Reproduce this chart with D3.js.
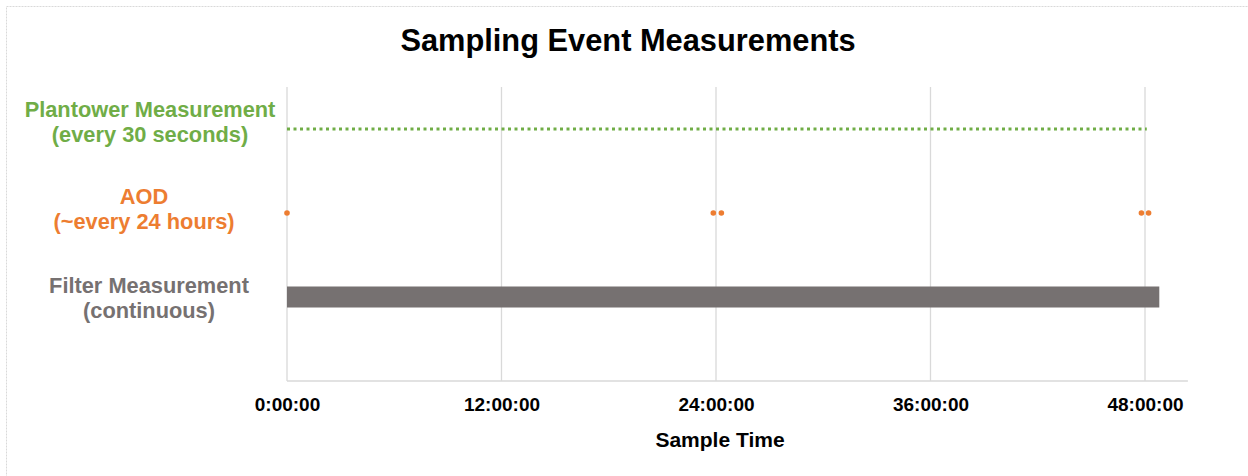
<!DOCTYPE html>
<html>
<head>
<meta charset="utf-8">
<script src="https://cdn.jsdelivr.net/npm/d3@7"></script>
<style>
  body { margin: 0; background: #fff; }
  text { font-family: "Liberation Sans", Arial, sans-serif; font-weight: bold; }
</style>
</head>
<body>
<div id="chart"></div>
<script>
// hours
var xTicks = [0, 12, 24, 36, 48];
var tickLabels = ["0:00:00", "12:00:00", "24:00:00", "36:00:00", "48:00:00"];

var rows = ["Plantower", "AOD", "Filter"];
var rowLabels = [
    ["Plantower Measurement", "(every 30 seconds)"],
    ["AOD", "(~every 24 hours)"],
    ["Filter Measurement", "(continuous)"]
];
var rowLevel = [3, 2, 1];
var rowColors = ["#70ad47", "#ed7d31", "#767171"];

// plantower line spans the whole event
var plantowerSpan = [0, 48.1];
// AOD sample times (hours)
var aodTimes = [0, 23.85, 24.3, 47.8, 48.2];
// filter on/off
var filterSpan = [0, 48.8];

var W = 1248, H = 476;

// label layout (centre of each two-line label)
var labelX = [150, 144, 149];
var labelMid = [121.5, 208.5, 297.5];

var svg = d3.select("#chart").append("svg")
    .attr("width", W)
    .attr("height", H);

// outer dashed frame
svg.append("rect")
    .attr("x", 6.5).attr("y", 6.5)
    .attr("width", W + 20).attr("height", H + 20)
    .attr("fill", "none")
    .attr("stroke", "#d9d9d9")
    .attr("stroke-dasharray", "2,1");

var xScale = d3.scaleLinear()
    .domain([0, 48])
    .range([287, 1145]);

var yScale = d3.scaleLinear()
    .domain([0, 3.5])
    .range([381, 87]);

// gridlines
svg.append("g")
    .selectAll("line")
    .data(xTicks)
    .enter()
    .append("line")
    .attr("x1", function(d){ return xScale(d); })
    .attr("x2", function(d){ return xScale(d); })
    .attr("y1", yScale(3.5))
    .attr("y2", yScale(0))
    .attr("stroke", "#d9d9d9")
    .attr("stroke-width", 1.3);

// x axis line
svg.append("line")
    .attr("x1", xScale(0)).attr("x2", xScale(50.4))
    .attr("y1", yScale(0)).attr("y2", yScale(0))
    .attr("stroke", "#d9d9d9")
    .attr("stroke-width", 1.5);

var xAxis = d3.axisBottom(xScale)
    .tickValues(xTicks)
    .tickSize(0)
    .tickPadding(17)
    .tickFormat(function(d, i){ return tickLabels[i]; });

var gx = svg.append("g")
    .attr("transform", "translate(0," + yScale(0) + ")")
    .call(xAxis);
gx.select(".domain").remove();
gx.selectAll("text")
    .attr("fill", "#000")
    .style("font-size", "19px")
    .style("font-family", "'Liberation Sans', Arial, sans-serif")
    .style("font-weight", "bold");

// plantower dotted line
svg.append("line")
    .attr("x1", xScale(plantowerSpan[0]))
    .attr("x2", xScale(plantowerSpan[1]))
    .attr("y1", yScale(rowLevel[0]))
    .attr("y2", yScale(rowLevel[0]))
    .attr("stroke", rowColors[0])
    .attr("stroke-width", 3)
    .attr("stroke-dasharray", "3,3.5");

// AOD points
svg.append("g")
    .selectAll("circle")
    .data(aodTimes)
    .enter()
    .append("circle")
    .attr("cx", function(d){ return xScale(d); })
    .attr("cy", yScale(rowLevel[1]))
    .attr("r", 2.8)
    .attr("fill", rowColors[1]);

// filter bar
svg.append("rect")
    .attr("x", xScale(filterSpan[0]))
    .attr("width", xScale(filterSpan[1]) - xScale(filterSpan[0]))
    .attr("y", yScale(rowLevel[2]) - 10.5)
    .attr("height", 21)
    .attr("fill", rowColors[2]);

// row labels
rowLabels.forEach(function(lines, i){
    var t = svg.append("text")
        .attr("text-anchor", "middle")
        .attr("fill", rowColors[i])
        .style("font-size", "21.8px");
    t.append("tspan").attr("x", labelX[i]).attr("y", labelMid[i] - 5).text(lines[0]);
    t.append("tspan").attr("x", labelX[i]).attr("y", labelMid[i] + 20).text(lines[1]);
});

// title
svg.append("text")
    .attr("x", 628)
    .attr("y", 51)
    .attr("text-anchor", "middle")
    .attr("fill", "#000")
    .style("font-size", "30.8px")
    .text("Sampling Event Measurements");

// x label
svg.append("text")
    .attr("x", 720)
    .attr("y", 447)
    .attr("text-anchor", "middle")
    .attr("fill", "#000")
    .style("font-size", "21px")
    .text("Sample Time");
</script>
</body>
</html>
